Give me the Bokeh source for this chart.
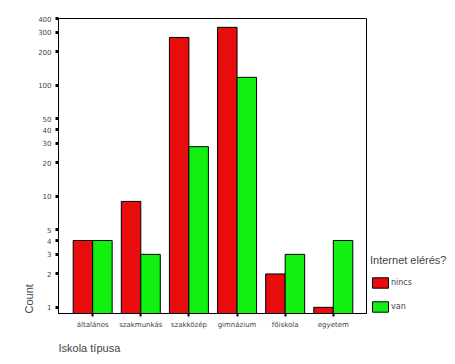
from bokeh.plotting import figure
from bokeh.models import (Range1d, FixedTicker, Legend, LegendItem, Title, ColumnDataSource)
from bokeh.embed import file_html
from bokeh.resources import INLINE

categories = ["általános", "szakmunkás", "szakközép", "gimnázium", "főiskola", "egyetem"]
nincs = [4, 9, 270, 333, 2, 1]
van = [4, 3, 28, 118, 3, 4]
y_ticks = [1, 2, 3, 4, 5, 10, 20, 30, 40, 50, 100, 200, 300, 400]
series_names = ["nincs", "van"]
colors = ["#E80C0C", "#12F012"]

ymin = 0.88
xs = list(range(len(categories)))
bw = 0.405

p = figure(output_backend="svg", toolbar_location=None, y_axis_type="log",
           x_range=Range1d(-0.71, 5.69), y_range=Range1d(ymin, 400),
           frame_width=308, frame_height=295,
           min_border_left=58, min_border_top=18, min_border_right=81,
           min_border_bottom=46, background_fill_color="white",
           outline_line_color="black", outline_line_width=1)

src_n = ColumnDataSource(dict(x=[x - bw / 2 for x in xs], top=nincs, bottom=[ymin] * len(xs)))
src_v = ColumnDataSource(dict(x=[x + bw / 2 for x in xs], top=van, bottom=[ymin] * len(xs)))
r1 = p.vbar(x="x", top="top", bottom="bottom", width=bw, source=src_n,
            fill_color=colors[0], line_color="black", line_width=1)
r2 = p.vbar(x="x", top="top", bottom="bottom", width=bw, source=src_v,
            fill_color=colors[1], line_color="black", line_width=1)

p.xgrid.visible = False
p.ygrid.visible = False

p.xaxis.ticker = FixedTicker(ticks=xs)
p.xaxis.major_label_overrides = {i: c for i, c in enumerate(categories)}
p.xaxis.minor_tick_line_color = None
p.xaxis.major_tick_in = 0
p.xaxis.major_tick_out = 3
p.xaxis.major_tick_line_width = 2
p.xaxis.major_label_text_font_size = "7px"
p.xaxis.major_label_text_font = "DejaVu Sans"
p.xaxis.major_label_standoff = 4
p.xaxis.axis_line_color = "black"

p.yaxis.ticker = FixedTicker(ticks=y_ticks)
p.yaxis.major_label_overrides = {t: str(t) for t in y_ticks}
p.yaxis.minor_tick_line_color = None
p.yaxis.major_tick_in = 0
p.yaxis.major_tick_out = 3
p.yaxis.major_tick_line_width = 3
p.yaxis.major_label_text_font_size = "7px"
p.yaxis.major_label_text_font = "DejaVu Sans"
p.yaxis.major_label_standoff = 4

p.add_layout(Title(text="Count", align="left", text_font_size="11px",
                   text_font="Liberation Sans", text_font_style="normal", standoff=2), "left")
p.add_layout(Title(text="Iskola típusa", align="left", text_font_size="11px",
                   text_font="Liberation Sans", text_font_style="normal", offset=0, standoff=16), "below")

legend = Legend(items=[LegendItem(label=series_names[0], renderers=[r1]),
                       LegendItem(label=series_names[1], renderers=[r2])],
                title="Internet elérés?", title_text_font_size="11px",
                title_text_font="Liberation Sans", title_text_font_style="normal",
                title_standoff=10,
                label_text_font_size="8px", label_text_font="DejaVu Sans",
                glyph_width=20, glyph_height=13, label_standoff=1, spacing=11,
                padding=0, margin=0, border_line_color=None, background_fill_alpha=0,
                location=(4, 0))
p.add_layout(legend, "right")

open("out.html", "w").write(file_html(p, INLINE))
